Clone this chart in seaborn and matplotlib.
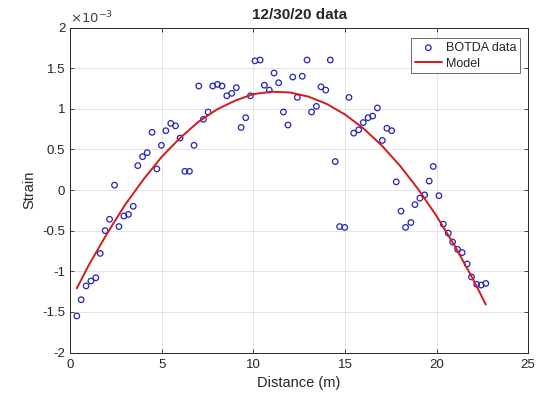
import matplotlib
matplotlib.use("Agg")
import matplotlib.pyplot as plt
import seaborn as sns
import pandas as pd

# BOTDA measurements (strain in units of 1e-3)
distance = [0.36, 0.60, 0.87, 1.13, 1.40, 1.64, 1.91, 2.15, 2.42, 2.66,
            2.93, 3.18, 3.44, 3.69, 3.95, 4.20, 4.47, 4.73, 4.98, 5.22,
            5.49, 5.75, 6.00, 6.26, 6.51, 6.76, 7.02, 7.27, 7.53, 7.78,
            8.04, 8.29, 8.55, 8.82, 9.07, 9.33, 9.58, 9.84, 10.09, 10.37,
            10.60, 10.87, 11.13, 11.38, 11.64, 11.89, 12.15, 12.40, 12.67, 12.93,
            13.18, 13.44, 13.69, 13.95, 14.20, 14.47, 14.71, 14.99, 15.22, 15.48,
            15.75, 16.00, 16.26, 16.51, 16.77, 17.04, 17.29, 17.55, 17.80, 18.06,
            18.31, 18.60, 18.82, 19.09, 19.35, 19.60, 19.82, 20.13, 20.37, 20.64,
            20.88, 21.15, 21.40, 21.67, 21.91, 22.19, 22.44, 22.69]
strain = [-1.55, -1.35, -1.18, -1.12, -1.08, -0.78, -0.50, -0.36, 0.06, -0.45,
          -0.32, -0.30, -0.20, 0.30, 0.41, 0.46, 0.71, 0.26, 0.55, 0.73,
          0.82, 0.79, 0.64, 0.23, 0.23, 0.55, 1.28, 0.87, 0.96, 1.28,
          1.30, 1.28, 1.16, 1.19, 1.26, 0.77, 0.89, 1.16, 1.59, 1.60,
          1.29, 1.23, 1.44, 1.32, 0.96, 0.80, 1.39, 1.14, 1.40, 1.60,
          0.96, 1.03, 1.27, 1.23, 1.60, 0.35, -0.45, -0.46, 1.14, 0.70,
          0.74, 0.83, 0.89, 0.91, 1.01, 0.61, 0.76, 0.73, 0.10, -0.26,
          -0.46, -0.40, -0.18, -0.10, -0.06, 0.11, 0.29, -0.07, -0.42, -0.53,
          -0.64, -0.73, -0.77, -0.91, -1.07, -1.16, -1.17, -1.15]

# fitted model curve
model_x = [0.36, 1, 2, 3, 4, 5, 6, 7, 8, 9, 10, 11, 12,
           13, 14, 15, 16, 17, 18, 19, 20, 21, 22, 22.69]
model_y = [-1.21, -0.93, -0.54, -0.18, 0.13, 0.41, 0.64, 0.84, 0.99, 1.10, 1.18, 1.21, 1.20,
           1.15, 1.06, 0.93, 0.76, 0.55, 0.30, 0.01, -0.32, -0.69, -1.10, -1.41]

x_ticks = [0, 5, 10, 15, 20, 25]
y_ticks = [-2, -1.5, -1, -0.5, 0, 0.5, 1, 1.5, 2]
y_ticklabels = ["-2", "-1.5", "-1", "-0.5", "0", "0.5", "1", "1.5", "2"]

sns.set_style("whitegrid")
plt.rcParams['font.family'] = ['Liberation Sans', 'DejaVu Sans']

df = pd.DataFrame({"x": distance, "y": strain})
model = pd.DataFrame({"x": model_x, "y": model_y})

fig = plt.figure(figsize=(5.4, 3.93), dpi=100)
ax = fig.add_axes([0.130, 0.103, 0.848, 0.827])

sns.scatterplot(data=df, x="x", y="y", ax=ax, marker="o", s=16,
                facecolors="none", edgecolor="#2424b8", linewidth=0.9,
                label="BOTDA data", zorder=3)
sns.lineplot(data=model, x="x", y="y", ax=ax, color="#d41a1a", linewidth=1.4,
             sort=False, label="Model", zorder=4)

ax.set_xlim(0, 25)
ax.set_ylim(-2, 2)
ax.set_xticks(x_ticks)
ax.set_yticks(y_ticks)
ax.set_yticklabels(y_ticklabels)
ax.tick_params(direction="in", length=3, width=0.6, colors="#262626",
               labelsize=9.5, top=True, right=True, left=True, bottom=True)
ax.tick_params(axis="x", pad=5)
ax.grid(True, color="#e4e4e4", linewidth=0.7)
for sp in ax.spines.values():
    sp.set_color("#262626")
    sp.set_linewidth(0.7)

ax.set_title("12/30/20 data", fontsize=11, fontweight="bold", pad=6)
ax.set_xlabel("Distance (m)", fontsize=10.5, labelpad=3)
ax.set_ylabel("Strain", fontsize=10.5, labelpad=4)
ax.text(0.0, 1.005, r"$\times10^{-3}$", transform=ax.transAxes,
        fontsize=9.5, va="bottom", ha="left", color="#404040")

leg = ax.legend(loc="upper right", bbox_to_anchor=(0.9825, 0.967), fontsize=9,
                frameon=True, fancybox=False, borderpad=0.3, labelspacing=0.3,
                handlelength=2.2, handletextpad=0.3, borderaxespad=0.0)
leg.get_frame().set_edgecolor("#262626")
leg.get_frame().set_linewidth(0.6)

plt.savefig("out.png", dpi=100)
